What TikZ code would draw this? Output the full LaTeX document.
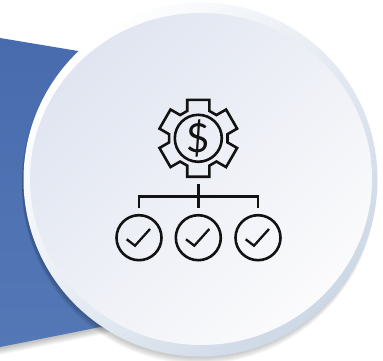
\documentclass[tikz,border=0pt]{standalone}
\usepackage{fontspec}
\usepackage{xcolor}
\usepackage{tikz}
\usetikzlibrary{positioning, calc}
\newfontfamily\iconfont{Lato}
\definecolor{bannerblue}{RGB}{72,107,174}
\definecolor{bannerlight}{RGB}{84,120,182}
\definecolor{discdark}{RGB}{224,229,241}
\definecolor{disclight}{RGB}{251,251,252}
\definecolor{rimblue}{RGB}{205,216,230}
\definecolor{iconblack}{RGB}{18,18,18}

\begin{document}
\begin{tikzpicture}[
    x=1pt, y=-1pt,
    iconline/.style={draw=iconblack, line width=2.6pt, line join=miter},
    checkdisc/.style={circle, draw=iconblack, line width=2.6pt, minimum size=45pt, inner sep=0pt}
]
\useasboundingbox (0,0) rectangle (383,361);

% Banner behind the disc
\foreach \d in {1,...,8}
    \fill[black, opacity=0.035] (0,{347+\d}) -- (110,{325+\d}) -- (110,300) -- (0,300) -- cycle;
\shade[top color=bannerblue, bottom color=bannerlight] (0,38) -- (90,53) -- (120,330) -- (100,327) -- (0,347) -- cycle;

% Disc with rim and soft shadow
\foreach \d in {1,...,7}
    \fill[black, opacity=0.03] (199,{180+\d}) circle (177);
\shade[left color=white, right color=rimblue, shading angle=45] (200.5,179.5) circle (177);
\shade[left color=discdark, right color=disclight, shading angle=45] (201,179) ellipse (171 and 166);

% Gear
\coordinate (gearc) at (198.3,138.3);
\draw[iconline] ($(gearc)+(106:40)$)
    \foreach \a in {90,30,-30,-90,-150,-210} {
        -- ($(gearc)+({\a+16}:40)$) -- ($(gearc)+({\a-16}:40)$) -- ($(gearc)+({\a-22}:29.5)$) -- ($(gearc)+({\a-38}:29.5)$)
    } -- cycle;
\node[circle, draw=iconblack, line width=2.6pt, minimum size=47pt, inner sep=0pt] (coin) at (gearc) {};
\node[font=\iconfont\fontsize{40}{40}\selectfont, text=iconblack, inner sep=0pt] (dollar) at (gearc) {\$};

% Check circles
\node[checkdisc] (chk1) at (139,237.7) {};
\node[checkdisc] (chk2) at (198.3,237.7) {};
\node[checkdisc] (chk3) at (258,237.7) {};
\foreach \i in {1,2,3}
    \draw[iconline, line width=2.3pt] ([shift={(-12.3,1.6)}]chk\i.center) -- ([shift={(-4,8)}]chk\i.center) -- ([shift={(11,-8.7)}]chk\i.center);

% Tree
\coordinate[above=5.5pt of chk1] (drop1);
\coordinate[above=5.5pt of chk2] (drop2);
\coordinate[above=5.5pt of chk3] (drop3);
\coordinate (stem) at (198.3,184);
\draw[iconline] (drop1) |- (drop3 |- 0,196.7) -- (drop3);
\draw[iconline] (stem) -- (drop2);

\end{tikzpicture}
\end{document}
